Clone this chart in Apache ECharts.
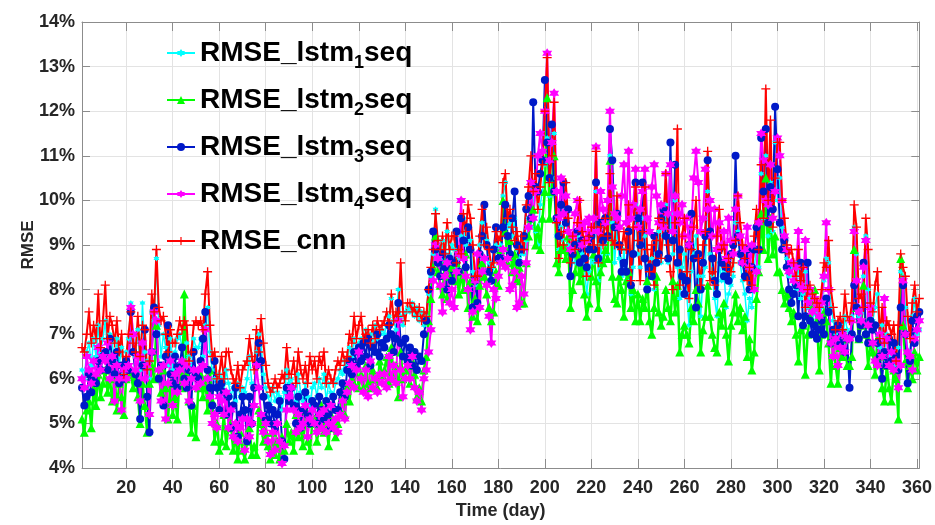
<!DOCTYPE html>
<html>
<head>
<meta charset="utf-8">
<script src="https://cdn.jsdelivr.net/npm/echarts@6/dist/echarts.min.js"></script>
<style>
  html, body { margin: 0; padding: 0; background: #fff; }
  #chart { width: 935px; height: 525px; }
</style>
</head>
<body>
<div id="chart"></div>
<script>
// day index 1..361
const days = Array.from({ length: 361 }, (_, i) => i + 1);
const xTickDays = [20, 40, 60, 80, 100, 120, 140, 160, 180, 200, 220, 240, 260, 280, 300, 320, 340, 360];
const seriesNames = ['RMSE_lstm1seq', 'RMSE_lstm2seq', 'RMSE_lstm3seq', 'RMSE_lstm4seq', 'RMSE_cnn'];

// RMSE (%)
const lstm1 = [
  6.2,6.0,6.6,6.8,6.3,6.9,6.5,7.2,6.6,6.9,
  7.3,6.6,7.0,6.8,6.4,6.9,6.3,6.7,6.1,6.6,
  6.9,7.7,7.0,6.5,7.1,6.2,7.7,6.6,6.4,6.0,
  7.5,7.3,8.7,7.2,6.5,7.0,6.7,6.3,6.9,6.2,
  6.6,6.9,7.0,6.7,6.4,6.8,6.5,6.2,6.9,6.7,
  6.7,6.9,6.5,7.2,7.6,6.6,6.2,6.0,5.8,6.1,
  6.0,5.7,6.2,5.9,5.6,5.8,5.5,5.9,5.6,5.8,
  5.7,6.0,6.5,5.9,5.8,6.6,7.0,6.8,6.1,5.8,
  5.6,5.4,5.8,5.5,5.7,5.6,5.3,5.7,6.2,5.9,
  6.0,5.8,5.5,6.1,5.7,5.5,5.9,5.6,5.4,5.8,
  5.9,5.6,6.0,5.8,6.1,5.5,5.9,5.7,5.6,5.9,
  6.0,6.2,6.1,6.4,6.3,6.7,6.5,6.9,6.6,6.8,
  6.9,6.8,7.1,6.9,7.0,6.8,7.2,6.9,7.0,7.1,
  7.0,7.2,7.4,7.8,7.3,7.1,8.0,7.4,7.2,7.5,
  7.6,7.5,7.7,7.4,7.6,7.3,7.5,7.2,7.4,7.9,
  8.3,8.8,9.8,9.0,8.7,9.1,8.6,9.3,8.8,9.0,
  8.9,8.5,8.7,9.2,9.6,9.0,9.4,9.1,8.4,8.2,
  8.1,9.0,9.5,9.2,9.1,8.6,8.4,8.5,9.0,8.9,
  9.0,10.1,10.4,9.4,9.5,9.2,9.6,8.9,8.7,8.8,
  8.8,9.1,9.6,9.4,10.3,9.3,9.0,9.9,10.2,10.8,
  11.4,10.1,10.5,11.5,9.2,8.9,9.4,9.1,9.8,9.0,
  8.3,8.9,8.6,9.2,9.1,8.8,8.5,7.9,8.4,8.7,
  8.6,10.2,8.2,9.0,8.6,9.1,8.8,11.0,9.5,8.6,
  9.4,8.7,8.3,8.9,8.2,9.3,7.9,8.5,9.9,8.8,
  8.5,9.6,9.2,8.1,8.3,8.7,8.0,8.8,9.3,8.6,
  9.2,9.9,8.6,9.7,8.8,10.0,8.5,7.8,8.5,8.8,
  7.9,7.2,8.4,8.8,9.2,8.3,7.4,8.3,8.5,10.2,
  8.8,8.3,7.8,7.4,8.6,8.2,8.4,7.6,7.9,8.1,
  8.3,9.5,9.3,8.6,8.2,7.9,7.3,7.8,7.6,8.5,
  8.9,8.5,10.6,9.6,11.0,9.2,10.4,9.3,11.3,10.0,
  10.5,9.4,9.0,8.7,8.3,8.5,8.1,8.0,8.6,7.8,
  7.9,8.4,7.6,7.8,7.3,7.5,7.2,7.3,7.6,8.2,
  8.7,8.6,7.6,7.3,7.0,6.9,7.2,6.8,7.4,7.1,
  6.9,7.4,9.4,8.8,7.4,7.5,8.3,9.2,8.0,7.3,
  7.3,7.6,7.9,6.7,7.2,6.6,7.0,6.9,6.5,6.8,
  6.3,6.7,8.4,8.3,7.6,6.6,6.6,7.4,7.8,7.0,7.1
];
const lstm2 = [
  5.1,4.8,5.3,5.5,4.9,5.8,5.4,6.1,5.6,5.9,
  6.2,5.7,6.0,5.5,6.1,5.3,5.9,5.6,5.2,6.0,
  6.3,6.1,5.8,6.2,5.6,5.0,5.9,5.4,4.8,5.9,
  6.3,6.0,7.2,6.1,5.7,6.2,5.8,5.1,5.9,5.2,
  5.6,5.1,6.2,5.8,7.9,6.1,5.5,4.8,5.4,4.7,
  5.8,6.1,5.6,6.0,5.3,6.2,5.5,4.6,5.0,4.4,
  4.6,5.2,4.5,4.9,5.0,4.4,4.7,4.2,4.8,4.4,
  4.2,4.6,4.9,4.3,4.5,4.3,5.3,5.0,4.6,4.8,
  4.5,4.2,4.8,4.3,4.6,4.2,4.7,4.4,5.0,4.6,
  4.8,4.4,5.2,4.7,4.9,4.5,5.3,4.6,4.4,5.0,
  5.1,4.6,4.9,5.4,4.8,5.0,4.5,5.2,4.9,4.7,
  5.0,5.3,5.6,5.2,5.8,5.5,6.0,5.9,6.3,5.8,
  6.1,5.8,6.3,5.9,5.8,6.2,6.0,5.8,6.4,6.1,
  6.2,6.5,5.9,6.7,6.0,6.3,5.6,6.6,6.0,6.2,
  6.3,5.9,6.4,6.1,5.6,5.8,5.5,6.2,6.5,7.3,
  7.8,8.5,9.2,8.4,8.1,7.9,8.6,7.8,8.3,8.5,
  8.2,8.6,7.9,8.4,8.0,8.8,7.6,8.2,7.4,7.8,
  7.3,8.1,8.6,8.3,7.9,7.6,7.3,7.5,8.4,8.1,
  8.9,10.0,9.3,8.6,9.1,8.4,8.8,8.2,8.5,7.7,
  7.7,8.6,9.2,9.6,9.8,9.0,9.4,8.9,9.6,10.2,
  12.3,9.6,10.2,11.0,8.6,8.4,8.9,9.0,8.7,9.2,
  7.6,8.0,8.4,8.8,8.2,8.5,7.9,7.4,7.7,8.3,
  8.8,8.2,7.6,8.4,8.6,8.9,8.7,10.9,8.3,7.8,
  7.7,8.3,8.0,7.4,8.2,8.4,7.6,8.0,7.3,7.9,
  7.3,7.8,7.6,8.2,7.3,7.0,7.6,8.3,7.5,7.2,
  7.4,8.0,7.6,7.3,8.2,7.5,8.1,6.6,7.0,7.2,
  7.0,6.8,7.6,7.3,8.0,7.7,6.6,7.1,7.4,8.1,
  7.4,7.0,6.7,6.6,7.5,7.2,7.7,7.0,6.4,7.2,
  7.5,7.9,7.3,7.6,7.1,7.4,6.5,6.9,6.2,6.6,
  7.8,8.4,9.7,8.9,10.5,8.7,9.6,8.8,9.2,8.4,
  8.4,8.0,7.7,7.9,7.6,7.3,7.5,7.0,6.4,7.1,
  7.2,6.1,7.0,7.4,7.6,8.0,7.3,6.2,7.0,7.5,
  7.3,6.8,5.9,6.9,6.3,5.9,6.7,6.5,6.9,6.3,
  6.3,6.5,8.9,7.6,6.9,7.2,8.1,7.0,6.3,6.8,
  6.6,6.1,6.9,6.5,5.8,5.5,6.3,5.8,5.5,6.2,
  6.0,5.1,8.7,7.2,6.4,5.8,6.3,6.0,6.6,6.2,6.5
];
const lstm3 = [
  5.8,5.4,5.6,6.1,5.7,6.0,5.9,6.4,6.2,6.5,
  6.6,6.2,6.9,6.4,6.1,6.6,5.9,6.3,6.0,6.4,
  6.2,7.5,6.6,6.1,5.9,5.1,6.3,7.1,5.6,4.8,
  6.6,7.6,7.0,6.0,6.3,5.4,6.5,7.2,6.1,5.9,
  6.5,5.8,6.3,6.7,6.0,5.8,6.2,5.4,6.6,6.1,
  6.0,6.4,6.9,7.5,6.2,5.8,5.4,6.4,5.8,5.3,
  5.9,5.7,5.2,5.6,4.9,5.4,5.8,4.7,5.2,5.6,
  5.3,4.6,5.6,5.0,5.8,6.3,6.8,6.4,5.6,5.1,
  5.4,5.0,5.3,4.9,5.2,5.5,4.6,4.2,5.8,5.5,
  5.8,5.4,5.0,5.6,4.9,5.3,5.7,5.2,5.0,5.5,
  5.4,5.0,5.6,5.3,5.1,5.5,5.2,4.9,5.6,5.3,
  5.3,5.7,5.9,5.6,6.2,6.4,6.1,6.6,6.3,6.7,
  6.4,6.8,6.5,6.9,6.3,6.7,6.6,7.0,6.5,6.8,
  6.7,6.9,7.2,7.0,6.6,6.9,7.7,6.8,6.5,6.9,
  6.4,6.7,6.3,6.6,6.2,6.5,6.4,7.0,7.3,8.0,
  8.4,9.3,8.9,8.6,8.3,8.8,8.5,8.0,8.7,8.2,
  8.6,9.3,8.4,9.6,9.1,8.5,9.4,8.9,7.6,8.2,
  7.7,8.8,9.2,9.9,9.0,8.4,8.2,8.9,9.4,8.7,
  8.7,9.4,9.9,9.2,8.8,9.6,10.2,9.0,8.6,8.9,
  9.2,9.8,10.1,9.6,12.2,10.3,10.2,10.6,10.9,12.7,
  11.3,10.5,11.7,10.2,9.6,9.2,9.9,10.4,9.5,9.8,
  8.3,8.8,9.0,9.3,8.6,9.1,8.7,8.5,8.9,9.2,
  8.9,10.4,8.7,9.5,9.1,9.6,9.2,11.6,10.9,9.4,
  9.7,9.0,8.4,8.6,8.4,9.3,8.1,8.8,10.4,9.6,
  9.0,10.4,8.7,8.0,8.5,8.3,9.2,8.6,8.8,9.6,
  9.8,9.2,8.7,11.3,9.1,10.8,8.6,8.9,8.3,7.9,
  8.2,9.0,9.7,8.7,7.6,8.8,8.0,8.6,9.2,10.9,
  9.3,8.7,8.2,7.9,8.9,8.6,8.3,8.5,8.2,8.8,
  9.0,11.0,9.2,8.8,8.6,8.3,8.9,8.0,8.5,8.9,
  9.4,8.9,11.4,10.2,11.6,9.5,10.3,9.8,12.1,10.7,
  9.5,8.9,9.1,8.5,8.0,7.7,7.9,8.1,7.4,8.6,
  7.2,7.4,8.6,7.3,7.0,7.2,6.9,7.1,7.3,7.0,
  7.8,7.5,6.8,7.1,6.9,7.2,6.8,7.0,6.6,6.9,
  5.8,7.0,8.1,7.6,6.9,7.2,8.6,7.0,6.8,7.3,
  7.1,7.2,6.8,6.5,6.0,6.6,6.3,6.9,6.4,6.8,
  6.5,6.2,7.6,8.1,7.0,5.9,6.4,7.3,6.8,7.4,7.5
];
const lstm4 = [
  6.0,5.8,6.5,6.2,5.9,6.4,6.1,6.7,6.2,6.5,
  6.4,6.8,6.0,6.5,5.5,6.3,6.0,5.3,6.2,6.0,
  6.3,7.6,7.0,6.2,6.5,5.5,6.8,6.0,6.3,5.2,
  6.6,7.5,7.3,6.2,5.5,6.3,5.1,5.9,6.4,5.4,
  6.1,5.7,6.2,6.4,5.9,6.3,5.5,6.0,6.2,5.8,
  6.2,5.9,6.3,7.1,6.0,5.6,5.0,5.2,4.9,5.6,
  5.5,5.2,5.7,4.9,5.3,4.7,5.0,4.6,4.9,5.1,
  4.4,5.1,4.7,5.0,5.4,6.3,5.8,5.2,4.8,5.0,
  4.6,4.3,4.8,4.4,5.0,4.6,4.1,4.5,5.3,5.6,
  5.8,5.3,4.8,5.2,4.9,5.0,5.4,4.7,5.1,5.3,
  5.0,4.8,5.2,4.9,5.3,4.8,5.0,5.4,4.9,5.1,
  4.8,5.2,5.5,5.1,5.7,5.9,6.3,5.8,6.2,6.6,
  6.0,5.7,6.2,5.6,6.4,5.8,6.0,5.7,6.1,5.9,
  6.1,5.8,6.5,6.0,6.3,5.9,7.3,6.2,5.6,6.0,
  6.3,6.0,6.5,5.8,5.5,5.7,5.3,6.0,6.2,6.6,
  7.1,8.2,9.0,8.7,8.1,7.5,8.3,8.6,7.7,8.0,
  7.6,8.4,8.8,10.0,8.7,8.3,8.0,7.1,7.5,8.2,
  8.8,7.6,8.4,8.7,8.1,7.4,6.8,8.0,7.8,8.3,
  8.6,8.9,8.5,8.7,8.0,8.1,8.4,7.6,7.7,8.3,
  7.9,8.6,9.4,10.4,9.6,10.2,11.0,11.5,11.1,12.0,
  13.3,10.9,11.3,12.4,10.2,9.6,10.5,9.7,10.1,9.3,
  8.9,9.2,9.7,10.0,9.4,9.0,9.5,9.1,9.6,9.3,
  9.6,11.2,9.3,10.2,9.8,9.5,10.0,12.0,10.3,9.7,
  9.6,9.4,10.1,10.8,9.5,11.1,9.6,9.9,10.7,9.4,
  9.8,10.2,10.7,9.6,9.3,10.3,10.8,10.1,9.5,9.9,
  9.4,10.6,9.7,10.8,9.3,10.1,9.7,9.5,9.9,9.2,
  9.6,9.0,9.4,10.5,11.1,10.4,9.3,9.6,10.7,9.8,
  10.0,9.2,9.8,8.9,9.5,9.0,9.3,8.7,9.6,9.1,
  8.8,9.8,10.1,9.2,8.6,8.9,9.4,8.5,9.0,8.0,
  8.4,9.5,11.5,10.9,10.0,9.9,10.8,9.6,10.2,11.4,
  11.0,10.0,9.2,8.9,8.4,8.6,8.2,8.5,9.3,8.1,
  8.0,9.1,7.7,8.0,7.5,7.8,7.6,7.4,7.7,8.3,
  9.5,8.0,6.8,6.5,6.9,6.3,6.7,7.0,6.6,6.9,
  6.9,7.3,9.3,8.2,7.5,7.3,8.5,9.1,7.2,7.6,
  6.8,6.4,6.3,7.0,6.5,7.8,6.9,6.3,6.6,6.2,
  6.4,5.8,6.3,8.2,7.0,6.6,6.5,6.2,6.9,7.1,7.3
];
const cnn = [
  6.7,6.6,7.0,7.5,6.8,7.2,6.9,7.9,6.7,7.3,
  8.1,6.9,7.4,7.2,6.8,7.3,6.6,7.0,6.1,6.5,
  7.0,7.5,6.8,6.6,7.4,6.5,7.2,7.1,6.2,6.4,
  7.9,7.5,8.9,7.6,7.3,7.4,7.0,6.6,7.1,6.8,
  6.8,7.0,7.3,7.1,7.3,7.2,6.4,6.6,7.2,7.3,
  7.2,7.3,7.1,7.9,8.4,7.2,6.5,6.6,6.0,6.1,
  6.5,6.0,6.6,6.6,6.2,6.0,5.9,6.3,5.8,6.2,
  6.3,6.4,6.9,6.5,6.2,7.1,6.6,7.35,6.8,6.3,
  5.9,5.7,5.8,6.0,5.8,5.9,6.1,6.0,6.7,6.1,
  6.1,6.4,5.9,6.6,6.2,6.0,6.3,5.9,6.5,6.2,
  6.4,6.0,6.5,6.3,6.6,5.9,6.2,6.0,5.9,6.2,
  6.4,6.3,6.6,6.4,6.5,7.0,6.8,7.4,6.9,7.2,
  7.4,6.9,7.0,7.1,6.8,7.2,6.9,7.3,7.1,7.2,
  7.3,7.5,7.2,7.9,7.3,7.5,7.4,8.6,7.5,7.3,
  7.7,7.7,7.5,7.6,7.4,7.6,7.3,7.5,7.4,8.0,
  8.5,8.9,9.7,9.1,8.9,9.2,8.8,9.5,8.9,9.2,
  9.2,8.6,8.9,8.8,9.7,9.3,9.9,9.6,9.0,8.3,
  8.3,9.2,9.8,9.0,9.4,8.9,8.5,8.6,9.3,9.1,
  9.2,10.4,10.6,9.6,9.8,9.4,9.1,9.3,8.9,9.2,
  8.9,9.9,10.3,11.0,10.2,10.6,9.8,10.3,10.8,12.0,
  13.2,10.4,11.0,12.2,9.5,8.7,9.3,9.0,10.4,9.6,
  8.6,9.2,8.9,9.5,10.0,9.3,9.1,8.3,9.2,9.4,
  9.0,11.1,8.6,9.4,9.0,9.6,9.2,10.6,9.1,9.0,
  10.1,9.0,8.9,9.3,8.9,9.9,8.2,9.4,10.3,9.1,
  8.2,9.3,10.3,8.9,8.4,9.0,8.1,9.1,9.6,8.7,
  9.5,10.6,9.0,8.4,8.0,9.5,11.6,8.1,9.2,9.6,
  8.4,7.8,8.9,9.4,10.0,8.7,8.1,9.0,9.3,11.1,
  8.2,8.4,8.1,9.2,9.8,8.9,9.0,8.5,8.7,8.4,
  8.6,9.1,10.1,9.5,9.0,8.7,8.2,8.5,8.1,9.2,
  9.8,8.9,10.8,9.6,12.5,10.0,11.8,9.4,10.5,11.3,
  11.3,10.0,9.6,9.0,8.8,8.9,8.6,8.3,8.9,8.2,
  8.5,7.6,8.0,8.1,7.9,7.8,7.7,7.6,8.0,8.6,
  8.5,9.1,8.0,7.6,7.1,7.3,7.4,7.1,7.9,7.4,
  7.3,7.7,9.9,9.4,7.8,7.9,7.6,9.6,8.9,7.7,
  7.5,8.1,8.4,6.9,7.6,6.8,7.3,7.2,7.0,7.2,
  6.4,7.2,8.8,8.5,8.3,7.4,6.9,7.7,8.1,7.5,7.8
];

[lstm1, lstm2, lstm3, lstm4, cnn].forEach((arr, i) => {
  if (arr.length !== days.length) throw new Error(seriesNames[i] + ' has ' + arr.length + ' values');
});

const FONT = 'Liberation Sans';
const STAR = 'path://M0,-10L2.9,-5L8.7,-5L5.8,0L8.7,5L2.9,5L0,10L-2.9,5L-8.7,5L-5.8,0L-8.7,-5L-2.9,-5Z';
const PLUS = 'path://M-1.5,-10H1.5V-1.5H10V1.5H1.5V10H-1.5V1.5H-10V-1.5H-1.5Z';

function makeSeries(name, values, color, symbol, size, width) {
  return {
    name: name,
    type: 'line',
    data: days.map((d, i) => [d, values[i]]),
    symbol: symbol,
    symbolSize: size,
    showAllSymbol: true,
    lineStyle: { color: color, width: width },
    itemStyle: { color: color },
    emphasis: { disabled: true }
  };
}

const chart = echarts.init(document.getElementById('chart'), null, { renderer: 'canvas' });

const axisText = { color: '#262626', fontFamily: FONT, fontWeight: 'bold', fontSize: 18 };

chart.setOption({
  animation: false,
  backgroundColor: '#fff',
  grid: { left: 82, right: 14, top: 22, bottom: 55, show: false },
  legend: {
    orient: 'vertical',
    left: 166,
    top: 34,
    padding: 0,
    itemWidth: 28,
    itemHeight: 10,
    itemGap: 9,
    data: seriesNames,
    formatter: name => name.replace(/lstm(\d)/, 'lstm{s|$1}'),
    textStyle: {
      fontFamily: FONT,
      fontWeight: 'bold',
      fontSize: 28,
      color: '#000',
      lineHeight: 38,
      rich: {
        s: { fontFamily: FONT, fontWeight: 'bold', fontSize: 18, color: '#000', lineHeight: 18, verticalAlign: 'bottom' }
      }
    }
  },
  xAxis: [
    {
      type: 'value',
      min: 1,
      max: 361,
      name: 'Time (day)',
      nameLocation: 'middle',
      nameGap: 34,
      nameMoveOverlap: false,
      nameTextStyle: { color: '#262626', fontFamily: FONT, fontWeight: 'bold', fontSize: 18 },
      axisLine: { show: true, onZero: false, lineStyle: { color: '#8c8c8c', width: 1 } },
      axisTick: { show: true, inside: true, length: 9, customValues: xTickDays, lineStyle: { color: '#8c8c8c' } },
      axisLabel: Object.assign({ customValues: xTickDays, margin: 11 }, axisText),
      splitLine: { show: true, lineStyle: { color: '#e3e3e3', width: 1 } }
    },
    {
      type: 'value',
      position: 'top',
      min: 1,
      max: 361,
      axisLine: { show: true, onZero: false, lineStyle: { color: '#8c8c8c', width: 1 } },
      axisTick: { show: true, inside: true, length: 9, customValues: xTickDays, lineStyle: { color: '#8c8c8c' } },
      axisLabel: { show: false, customValues: xTickDays },
      splitLine: { show: false }
    }
  ],
  yAxis: [
    {
      type: 'value',
      min: 4,
      max: 14,
      interval: 1,
      name: 'RMSE',
      nameLocation: 'middle',
      nameGap: 45,
      nameMoveOverlap: false,
      nameTextStyle: { color: '#262626', fontFamily: FONT, fontWeight: 'bold', fontSize: 17 },
      axisLine: { show: true, onZero: false, lineStyle: { color: '#8c8c8c', width: 1 } },
      axisTick: { show: true, inside: true, length: 8, lineStyle: { color: '#8c8c8c' } },
      axisLabel: Object.assign({ margin: 7, formatter: '{value}%' }, axisText),
      splitLine: { show: true, lineStyle: { color: '#e3e3e3', width: 1 } }
    },
    {
      type: 'value',
      position: 'right',
      min: 4,
      max: 14,
      interval: 1,
      axisLine: { show: true, onZero: false, lineStyle: { color: '#8c8c8c', width: 1 } },
      axisTick: { show: true, inside: true, length: 8, lineStyle: { color: '#8c8c8c' } },
      axisLabel: { show: false },
      splitLine: { show: false }
    }
  ],
  series: [
    makeSeries(seriesNames[0], lstm1, '#00FFFF', STAR, 6, 1.5),
    makeSeries(seriesNames[1], lstm2, '#00FF00', 'triangle', 9, 2.5),
    makeSeries(seriesNames[2], lstm3, '#0019C8', 'circle', 8, 2),
    makeSeries(seriesNames[3], lstm4, '#FF00FF', STAR, 10, 2),
    makeSeries(seriesNames[4], cnn, '#FF0000', PLUS, 9, 2)
  ]
});
</script>
</body>
</html>
